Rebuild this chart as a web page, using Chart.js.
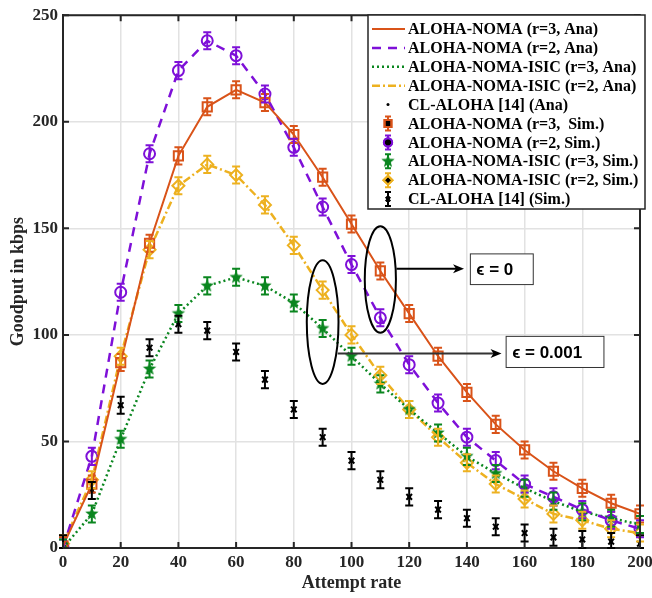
<!DOCTYPE html>
<html>
<head>
<meta charset="utf-8">
<script src="https://cdn.jsdelivr.net/npm/chart.js@4.4.0/dist/chart.umd.min.js"></script>
<style>
  body { margin: 0; background: #fff; }
  #wrap { width: 652px; height: 598px; }
</style>
</head>
<body>
<div id="wrap"><canvas id="goodputChart" width="652" height="598"></canvas></div>
<script>
// attempt rate values (x)
const attemptRate = [0, 10, 20, 30, 40, 50, 60, 70, 80, 90, 100, 110, 120, 130, 140, 150, 160, 170, 180, 190, 200]

// goodput in kbps
const nomaR3 = [1, 30, 87, 143, 184, 207, 215, 209, 194, 174, 152, 130, 110, 90, 73, 58, 46, 36, 28, 21, 16]
const nomaR2 = [0, 43, 120, 185, 224, 238, 231, 213, 188, 160, 133, 108, 86, 68, 52, 41, 30, 24, 18, 13, 9]
const isicR3 = [0, 16, 51, 84, 110, 123, 127, 123, 115, 103, 90, 77, 65, 54, 43, 35, 28, 22, 17, 14, 11]
const isicR2 = [2, 32, 90, 140, 170, 180, 175, 161, 142, 121, 100, 81, 65, 52, 40, 30, 23, 16, 13, 9, 7]
const clAloha = [2, 27, 67, 94, 105, 102, 92, 79, 65, 52, 41, 32, 24, 18, 14, 10, 7, 5, 4, 3, 2]

// half height of the simulation error bars (kbps)
const simErr = 4

const xTicks = [0, 20, 40, 60, 80, 100, 120, 140, 160, 180, 200]
const yTicks = [0, 50, 100, 150, 200, 250]

const ORANGE = '#D95319'
const PURPLE = '#7E10D8'
const GREEN = '#0A861F'
const YELLOW = '#EDB120'
const BLACK = '#000000'
const SERIF = "'Liberation Serif', 'Times New Roman', serif"

function toPoints(ys) {
  return attemptRate.map((x, i) => ({ x: x, y: ys[i] }))
}

function makeStar(color, r) {
  const c = document.createElement('canvas')
  const s = Math.ceil(r * 2 + 2)
  c.width = s
  c.height = s
  const g = c.getContext('2d')
  g.beginPath()
  for (let i = 0; i < 10; i++) {
    const rr = i % 2 === 0 ? r : r * 0.42
    const a = -Math.PI / 2 + i * Math.PI / 5
    const px = s / 2 + rr * Math.cos(a)
    const py = s / 2 + rr * Math.sin(a)
    if (i === 0) g.moveTo(px, py)
    else g.lineTo(px, py)
  }
  g.closePath()
  g.fillStyle = color
  g.fill()
  return c
}

const greenStar = makeStar(GREEN, 7)

function anaSet(label, ys, color, dash, width) {
  return {
    label: label,
    data: toPoints(ys),
    showLine: true,
    borderColor: color,
    backgroundColor: color,
    borderWidth: width,
    borderDash: dash,
    pointRadius: 0,
    pointHoverRadius: 0,
    kind: 'ana'
  }
}

function simSet(label, ys, color, style, radius, filled) {
  return {
    label: label,
    data: toPoints(ys),
    showLine: false,
    borderColor: color,
    backgroundColor: filled ? color : 'rgba(0,0,0,0)',
    pointStyle: style,
    pointRadius: radius,
    pointBorderWidth: 2,
    kind: 'sim',
    err: simErr
  }
}

const datasets = [
  anaSet('ALOHA-NOMA (r=3, Ana)', nomaR3, ORANGE, [], 2),
  anaSet('ALOHA-NOMA (r=2, Ana)', nomaR2, PURPLE, [9, 7], 2.5),
  anaSet('ALOHA-NOMA-ISIC (r=3, Ana)', isicR3, GREEN, [2, 3], 2.5),
  anaSet('ALOHA-NOMA-ISIC (r=2, Ana)', isicR2, YELLOW, [8, 3, 2, 3], 2.5),
  {
    label: 'CL-ALOHA [14] (Ana)',
    data: toPoints(clAloha),
    showLine: false,
    borderColor: BLACK,
    backgroundColor: BLACK,
    pointRadius: 1.5,
    pointStyle: 'circle',
    kind: 'dot'
  },
  simSet('ALOHA-NOMA (r=3,  Sim.)', nomaR3, ORANGE, 'rect', 6.5, false),
  simSet('ALOHA-NOMA (r=2, Sim.)', nomaR2, PURPLE, 'circle', 5.5, false),
  simSet('ALOHA-NOMA-ISIC (r=3, Sim.)', isicR3, GREEN, greenStar, 7, true),
  simSet('ALOHA-NOMA-ISIC (r=2, Sim.)', isicR2, YELLOW, 'rectRot', 6, false),
  simSet('CL-ALOHA [14] (Sim.)', clAloha, BLACK, 'crossRot', 4, false)
]

// ellipses and arrow boxes, in data units
const ellipses = [
  { x: 110, y: 126, rx: 5.4, ry: 25 },
  { x: 90, y: 106, rx: 5.5, ry: 29 }
]
const callouts = [
  { from: 115.6, to: 139, y: 131, box: [141.2, 163, 138, 123.6], text: '\u03f5 = 0' },
  { from: 95.2, to: 152, y: 91.3, box: [153.6, 187.5, 99.3, 84.7], text: '\u03f5 = 0.001' }
]

const errorBars = {
  id: 'errorBars',
  afterDatasetsDraw(chart) {
    const ctx = chart.ctx
    const ys = chart.scales.y
    chart.data.datasets.forEach((ds, i) => {
      if (ds.kind !== 'sim') return
      const meta = chart.getDatasetMeta(i)
      ctx.save()
      ctx.strokeStyle = ds.borderColor
      ctx.lineWidth = 2
      meta.data.forEach((pt, j) => {
        const v = ds.data[j].y
        const top = ys.getPixelForValue(v + ds.err)
        const bot = ys.getPixelForValue(Math.max(v - ds.err, 0))
        ctx.beginPath()
        ctx.moveTo(pt.x, top)
        ctx.lineTo(pt.x, bot)
        ctx.moveTo(pt.x - 4, top)
        ctx.lineTo(pt.x + 4, top)
        ctx.moveTo(pt.x - 4, bot)
        ctx.lineTo(pt.x + 4, bot)
        ctx.stroke()
      })
      ctx.restore()
    })
  }
}

function drawArrow(ctx, x1, x2, y) {
  ctx.beginPath()
  ctx.moveTo(x1, y)
  ctx.lineTo(x2 - 6, y)
  ctx.stroke()
  ctx.beginPath()
  ctx.moveTo(x2, y)
  ctx.lineTo(x2 - 11, y - 4.5)
  ctx.lineTo(x2 - 8, y)
  ctx.lineTo(x2 - 11, y + 4.5)
  ctx.closePath()
  ctx.fill()
}

const frameAndNotes = {
  id: 'frameAndNotes',
  afterDraw(chart) {
    const ctx = chart.ctx
    const xs = chart.scales.x
    const ys = chart.scales.y
    const a = chart.chartArea
    ctx.save()

    // box and inward ticks
    ctx.strokeStyle = '#262626'
    ctx.lineWidth = 2
    ctx.beginPath()
    ctx.moveTo(a.left, a.top)
    ctx.lineTo(a.right, a.top)
    ctx.lineTo(a.right, a.bottom)
    ctx.stroke()
    ctx.beginPath()
    xTicks.forEach(t => {
      const px = xs.getPixelForValue(t)
      ctx.moveTo(px, a.bottom)
      ctx.lineTo(px, a.bottom - 6)
      ctx.moveTo(px, a.top)
      ctx.lineTo(px, a.top + 6)
    })
    yTicks.forEach(t => {
      const py = ys.getPixelForValue(t)
      ctx.moveTo(a.left, py)
      ctx.lineTo(a.left + 6, py)
      ctx.moveTo(a.right, py)
      ctx.lineTo(a.right - 6, py)
    })
    ctx.stroke()

    // ellipses
    ctx.strokeStyle = BLACK
    ctx.lineWidth = 2
    ellipses.forEach(e => {
      const cx = xs.getPixelForValue(e.x)
      const cy = ys.getPixelForValue(e.y)
      const rx = xs.getPixelForValue(e.x + e.rx) - cx
      const ry = cy - ys.getPixelForValue(e.y + e.ry)
      ctx.beginPath()
      ctx.ellipse(cx, cy, rx, ry, 0, 0, Math.PI * 2)
      ctx.stroke()
    })

    // arrows and text boxes
    callouts.forEach(c => {
      const y = ys.getPixelForValue(c.y)
      ctx.fillStyle = BLACK
      ctx.lineWidth = 2
      drawArrow(ctx, xs.getPixelForValue(c.from), xs.getPixelForValue(c.to), y)
      const bx1 = xs.getPixelForValue(c.box[0])
      const bx2 = xs.getPixelForValue(c.box[1])
      const by1 = ys.getPixelForValue(c.box[2])
      const by2 = ys.getPixelForValue(c.box[3])
      ctx.fillStyle = '#fff'
      ctx.fillRect(bx1, by1, bx2 - bx1, by2 - by1)
      ctx.lineWidth = 1
      ctx.strokeStyle = '#333'
      ctx.strokeRect(bx1, by1, bx2 - bx1, by2 - by1)
      ctx.fillStyle = BLACK
      ctx.font = "bold 17px 'Liberation Sans', Arial, sans-serif"
      ctx.textBaseline = 'middle'
      ctx.textAlign = 'left'
      ctx.fillText(c.text, bx1 + 6, (by1 + by2) / 2 + 1)
    })

    // legend
    const lx = 368, ly = 15, lw = 277, lh = 194
    ctx.fillStyle = '#fff'
    ctx.fillRect(lx, ly, lw, lh)
    ctx.strokeStyle = '#262626'
    ctx.lineWidth = 1.5
    ctx.strokeRect(lx, ly, lw, lh)
    ctx.font = 'bold 16px ' + SERIF
    ctx.textBaseline = 'middle'
    chart.data.datasets.forEach((ds, i) => {
      const y = 29 + i * 18.9
      ctx.save()
      if (ds.kind === 'ana') {
        ctx.strokeStyle = ds.borderColor
        ctx.lineWidth = ds.borderWidth
        ctx.setLineDash(ds.borderDash)
        ctx.beginPath()
        ctx.moveTo(372, y)
        ctx.lineTo(405, y)
        ctx.stroke()
      } else if (ds.kind === 'dot') {
        ctx.fillStyle = BLACK
        ctx.beginPath()
        ctx.arc(388, y, 1.5, 0, Math.PI * 2)
        ctx.fill()
      } else {
        ctx.strokeStyle = ds.borderColor
        ctx.lineWidth = 2
        ctx.beginPath()
        ctx.moveTo(388, y - 7)
        ctx.lineTo(388, y + 7)
        ctx.moveTo(385, y - 7)
        ctx.lineTo(391, y - 7)
        ctx.moveTo(385, y + 7)
        ctx.lineTo(391, y + 7)
        ctx.stroke()
        Chart.helpers.drawPoint(ctx, {
          pointStyle: ds.pointStyle,
          radius: ds.pointRadius * 0.75,
          borderWidth: 2,
          rotation: 0
        }, 388, y)
        ctx.fillStyle = ds.backgroundColor
        if (ds.pointStyle !== greenStar) ctx.stroke()
      }
      ctx.restore()
      ctx.fillStyle = BLACK
      ctx.fillText(ds.label, 408, y + 1)
    })

    ctx.restore()
  }
}

const tickFont = { family: SERIF, size: 17, weight: 'bold' }
const titleFont = { family: SERIF, size: 18, weight: 'bold' }

new Chart(document.getElementById('goodputChart'), {
  type: 'scatter',
  data: { datasets: datasets },
  options: {
    responsive: false,
    animation: false,
    layout: { padding: { left: 0, right: 12, top: 14, bottom: 0 } },
    plugins: {
      legend: { display: false },
      tooltip: { enabled: false }
    },
    scales: {
      x: {
        type: 'linear',
        min: 0,
        max: 200,
        afterFit: s => {
          s.height = 50
          s.paddingLeft = 0
          s.paddingRight = 0
        },
        afterBuildTicks: s => { s.ticks = xTicks.map(v => ({ value: v })) },
        ticks: { font: tickFont, color: '#262626', padding: 4 },
        grid: { color: '#e2e2e2', lineWidth: 1.5, drawTicks: false },
        border: { display: true, color: '#262626', width: 2 },
        title: { display: true, text: 'Attempt rate', font: titleFont, color: '#262626', padding: { top: 4, bottom: 4 } }
      },
      y: {
        type: 'linear',
        min: 0,
        max: 250,
        afterFit: s => { s.width = 63 },
        afterBuildTicks: s => { s.ticks = yTicks.map(v => ({ value: v })) },
        ticks: { font: tickFont, color: '#262626', padding: 5 },
        grid: { color: '#e2e2e2', lineWidth: 1.5, drawTicks: false },
        border: { display: true, color: '#262626', width: 2 },
        title: { display: true, text: 'Goodput in kbps', font: titleFont, color: '#262626', padding: { top: 8, bottom: 8 } }
      }
    }
  },
  plugins: [errorBars, frameAndNotes]
})
</script>
</body>
</html>
